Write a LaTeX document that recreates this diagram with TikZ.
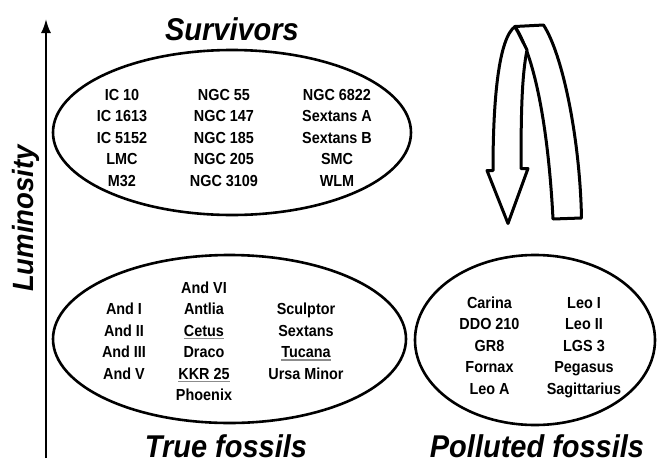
\documentclass[tikz,border=0pt]{standalone}
\usepackage{fontspec}
\setmainfont{Liberation Sans}
\newfontfamily\condfont{Liberation Sans}[FakeStretch=0.9]
\newfontfamily\titlefont{Liberation Sans}[FakeStretch=0.92]
\newfontfamily\lumfont{Liberation Sans}[FakeStretch=0.94]
\usetikzlibrary{shapes.geometric,arrows.meta}
\begin{document}
\begin{tikzpicture}[x=1pt,y=-1pt,
  lbl/.style={font=\condfont\bfseries\fontsize{16}{18}\selectfont, anchor=base, inner sep=0pt},
  ttl/.style={font=\titlefont\bfseries\itshape\fontsize{31.5}{34}\selectfont, anchor=base, inner sep=0pt},
  grp/.style={ellipse, draw, line width=2.6pt, inner sep=0pt},
  ulbar/.style={draw=black!45, line width=1.3pt},
  ribbon/.style={draw, fill=white, line width=3pt, line join=round}]
\useasboundingbox (0,0) rectangle (657,464);

% axis
\coordinate (axb) at (46,458);
\coordinate (axt) at (46,19);
\draw[line width=2pt, -{Latex[length=14pt,width=10pt]}] (axb) -- (axt);
\node[ttl, font=\lumfont\bfseries\itshape\fontsize{29.3}{32}\selectfont, rotate=90] (lum) at (33,218.5) {Luminosity};

% ellipses
\node[grp, minimum width=358pt, minimum height=165pt] (surv) at (232,132.5) {};
\node[grp, minimum width=353pt, minimum height=168pt] (truef) at (229.5,339) {};
\node[grp, minimum width=240pt, minimum height=170pt] (pollf) at (535,340) {};

% titles
\node[ttl] (tsurv) at (232,40) {Survivors};
\node[ttl, text depth=0pt] (ttrue) at (226,457) {True fossils};
\node[ttl, text depth=0pt] (tpoll) at (537,457) {Polluted fossils};

% survivors
\foreach \t [count=\i] in {IC 10, IC 1613, IC 5152, LMC, M32}
  \node[lbl] (sa\i) at (122,78.5+21.5*\i) {\t};
\foreach \t [count=\i] in {NGC 55, NGC 147, NGC 185, NGC 205, NGC 3109}
  \node[lbl] (sb\i) at (224,78.5+21.5*\i) {\t};
\foreach \t [count=\i] in {NGC 6822, Sextans A, Sextans B, SMC, WLM}
  \node[lbl] (sc\i) at (337,78.5+21.5*\i) {\t};

% true fossils
\foreach \t [count=\i] in {And I, And II, And III, And V}
  \node[lbl] (ta\i) at (124,293+21.5*\i) {\t};
\foreach \t [count=\i] in {And VI, Antlia, Cetus, Draco, KKR 25, Phoenix}
  \node[lbl] (tb\i) at (204,271.5+21.5*\i) {\t};
\foreach \t [count=\i] in {Sculptor, Sextans, Tucana, Ursa Minor}
  \node[lbl] (tc\i) at (306,293+21.5*\i) {\t};
\draw[ulbar] ([yshift=-2.5pt]tb3.base west) -- ([yshift=-2.5pt]tb3.base east);
\draw[ulbar] ([yshift=-2.5pt]tb5.base west) -- ([yshift=-2.5pt]tb5.base east);
\draw[ulbar] ([yshift=-2.5pt]tc3.base west) -- ([yshift=-2.5pt]tc3.base east);

% polluted fossils
\foreach \t [count=\i] in {Carina, DDO 210, GR8, Fornax, Leo A}
  \node[lbl] (pa\i) at (489.5,286.5+21.5*\i) {\t};
\foreach \t [count=\i] in {Leo I, Leo II, LGS 3, Pegasus, Sagittarius}
  \node[lbl] (pb\i) at (584,286.5+21.5*\i) {\t};

% curved arrow
\coordinate (A) at (515,26.5);
\coordinate (B) at (543.5,25);
\coordinate (C) at (581.5,218);
\coordinate (D) at (553,219);
\coordinate (E) at (527,50);
\coordinate (F) at (493,170.5);
\coordinate (G) at (487,170.5);
\coordinate (T) at (508,223.5);
\coordinate (H) at (528,168.5);
\coordinate (I) at (521,168.5);
\draw[ribbon] (A) -- (B) .. controls (563,55) and (580,140) .. (C) -- (D)
  .. controls (549,140) and (537,60) .. (A) -- cycle;
\draw[ribbon] (A) .. controls (499,38) and (493,97) .. (F) -- (G) -- (T) -- (H) -- (I)
  .. controls (521,110) and (522,75) .. (E) -- cycle;
\end{tikzpicture}
\end{document}
